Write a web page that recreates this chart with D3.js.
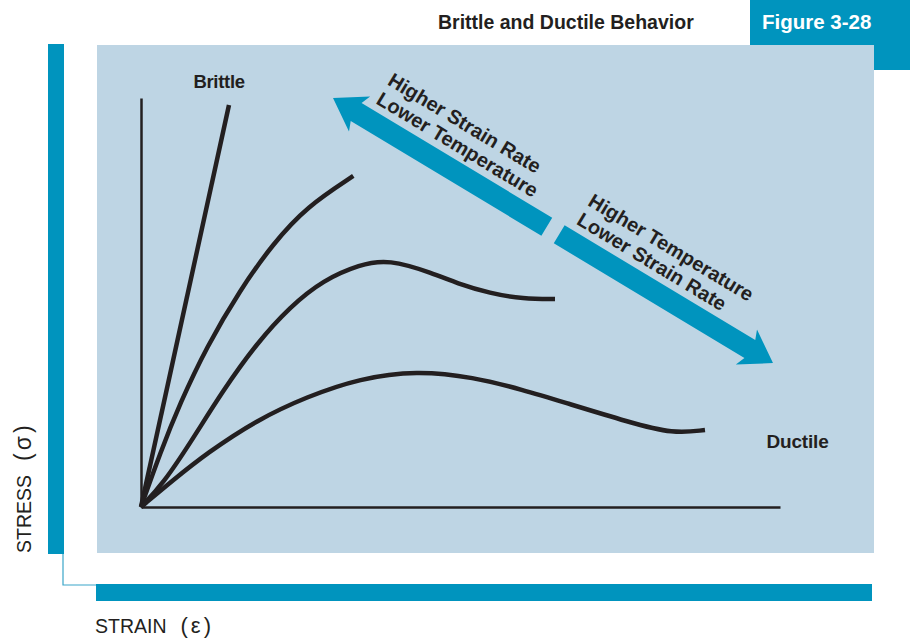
<!DOCTYPE html>
<html>
<head>
<meta charset="utf-8">
<script src="https://cdn.jsdelivr.net/npm/d3@7"></script>
<style>
  html, body { margin: 0; padding: 0; background: #ffffff; }
  svg { display: block; }
  text { font-family: "Liberation Sans", Arial, Helvetica, sans-serif; }
</style>
</head>
<body>
<svg id="chart" width="910" height="638"></svg>
<script>
// ---------- DATA ----------
const curveNames = ["Brittle", "Curve 2", "Curve 3", "Ductile"];
const strainBrittle = [0, 13.77];
const stressBrittle = [0, 98.29];
const strainCurve2 = [0, 2.97, 6.10, 10.28, 15.49, 20.70, 25.93, 33.22];
const stressCurve2 = [0, 13.13, 25.35, 39.19, 53.06, 64.47, 73.42, 80.93];
const strainCurve3 = [0, 3.49, 7.67, 12.88, 18.11, 23.32, 28.53, 34.27, 38.70, 45.74, 49.41, 54.62, 59.83, 64.79];
const stressCurve3 = [0, 5.79, 15.57, 28.61, 40.02, 48.97, 55.50, 59.30, 60.60, 57.14, 54.69, 52.25, 50.86, 50.86];
const strainDuctile = [0, 5.05, 10.28, 18.11, 25.93, 34.27, 43.15, 52.00, 59.83, 66.04, 76.53, 83.26, 88.26];
const stressDuctile = [0, 6.60, 13.13, 21.27, 26.97, 31.47, 33.35, 31.78, 28.61, 25.67, 20.66, 17.90, 18.83];

const titleText = "Brittle and Ductile Behavior";
const figureText = "Figure 3-28";
const xAxisLabel = "STRAIN";
const xAxisSymbol = "(ε)";
const yAxisLabel = "STRESS";
const yAxisSymbol = "(σ)";
const arrowUpperLines = ["Higher Strain Rate", "Lower Temperature"];
const arrowLowerLines = ["Higher Temperature", "Lower Strain Rate"];
// arrow tips in data space (strain, stress)
const arrowTipUpper = [30.05, 100];
const arrowTipLower = [98.9, 35.2];
const brittleLabelPos = [8.2, 102.5];
const ductileLabelPos = [97.9, 14.5];

// ---------- STYLE ----------
const teal = "#0094be";
const panelBlue = "#bed5e4";
const ink = "#231f20";

const svg = d3.select("#chart");

// frame decorations
svg.append("rect").attr("x", 750).attr("y", 0).attr("width", 160).attr("height", 70).attr("fill", teal);
svg.append("rect").attr("x", 48).attr("y", 44).attr("width", 16).attr("height", 510).attr("fill", teal);
svg.append("rect").attr("x", 96).attr("y", 584).attr("width", 776).attr("height", 17).attr("fill", teal);
svg.append("path").attr("d", "M63,554V585H96").attr("fill", "none").attr("stroke", "#3aa6c9").attr("stroke-width", 1.2);
svg.append("rect").attr("x", 97).attr("y", 45).attr("width", 777).attr("height", 508).attr("fill", panelBlue);

// titles
svg.append("text").attr("x", 438).attr("y", 29).attr("font-size", 19.5).attr("font-weight", "bold")
  .attr("fill", ink).text(titleText);
svg.append("text").attr("x", 762).attr("y", 29).attr("font-size", 20.5).attr("font-weight", "bold")
  .attr("fill", "#ffffff").text(figureText);

// ---------- SCALES ----------
const x = d3.scaleLinear().domain([0, 100]).range([141, 780]);
const y = d3.scaleLinear().domain([0, 100]).range([507, 98]);

// axes (no ticks)
const gx = svg.append("g").attr("transform", `translate(0,${y(0)})`)
  .call(d3.axisBottom(x).ticks(0).tickSizeOuter(0));
const gy = svg.append("g").attr("transform", `translate(${x(0)},0)`)
  .call(d3.axisLeft(y).ticks(0).tickSizeOuter(0));
[gx, gy].forEach(g => {
  g.select(".domain").attr("stroke", ink).attr("stroke-width", 2.5);
  g.selectAll(".tick").remove();
});

// curves
const series = [
  [strainBrittle, stressBrittle],
  [strainCurve2, stressCurve2],
  [strainCurve3, stressCurve3],
  [strainDuctile, stressDuctile]
].map(([xs, ys], i) => ({ name: curveNames[i], pts: xs.map((v, j) => [v, ys[j]]) }));

const line = d3.line().x(d => x(d[0])).y(d => y(d[1])).curve(d3.curveBasis);
svg.append("g").selectAll("path").data(series).join("path")
  .attr("d", d => line(d.pts))
  .attr("fill", "none").attr("stroke", ink).attr("stroke-width", 4.5)
  .attr("stroke-linejoin", "round");

// curve labels
svg.append("text").attr("x", x(brittleLabelPos[0])).attr("y", y(brittleLabelPos[1]))
  .attr("font-size", 18.5).attr("font-weight", "bold").attr("fill", ink).attr("letter-spacing", -0.3).text(curveNames[0]);
svg.append("text").attr("x", x(ductileLabelPos[0])).attr("y", y(ductileLabelPos[1]))
  .attr("font-size", 19).attr("font-weight", "bold").attr("fill", ink).attr("letter-spacing", -0.2).text(curveNames[3]);

// ---------- ARROWS ----------
const p0 = [x(arrowTipUpper[0]), y(arrowTipUpper[1])];
const p1 = [x(arrowTipLower[0]), y(arrowTipLower[1])];
const L = Math.hypot(p1[0] - p0[0], p1[1] - p0[1]);
const ang = Math.atan2(p1[1] - p0[1], p1[0] - p0[0]) * 180 / Math.PI;
const headL = 31, headW = 20.5, shaftW = 10.5, gap = 14.5;
const mid = L / 2;
const ga = svg.append("g").attr("transform", `translate(${p0[0]},${p0[1]}) rotate(${ang})`);
const upperArrow = [[0, 0], [headL, -headW], [headL - 4, -shaftW], [mid - gap / 2, -shaftW],
  [mid - gap / 2, shaftW], [headL - 4, shaftW], [headL, headW]];
const lowerArrow = [[L, 0], [L - headL, headW], [L - headL + 4, shaftW], [mid + gap / 2, shaftW],
  [mid + gap / 2, -shaftW], [L - headL + 4, -shaftW], [L - headL, -headW]];
ga.selectAll("path.arrow").data([upperArrow, lowerArrow]).join("path")
  .attr("class", "arrow")
  .attr("d", d => "M" + d.map(p => p.join(",")).join("L") + "Z")
  .attr("fill", teal);

const lineYs = [-39.5, -17.5];
ga.selectAll("text.up").data(arrowUpperLines).join("text").attr("class", "up")
  .attr("x", 38.5).attr("y", (d, i) => lineYs[i])
  .attr("font-size", 20).attr("font-weight", "bold").attr("fill", ink).text(d => d);
ga.selectAll("text.lo").data(arrowLowerLines).join("text").attr("class", "lo")
  .attr("x", 272.5).attr("y", (d, i) => lineYs[i])
  .attr("font-size", 20).attr("font-weight", "bold").attr("fill", ink).text(d => d);

// ---------- AXIS LABELS ----------
const xl = svg.append("text").attr("x", 95).attr("y", 633).attr("font-size", 19.5).attr("fill", ink);
xl.append("tspan").text(xAxisLabel);
xl.append("tspan").attr("dx", 14).attr("font-size", 22).attr("letter-spacing", 3).text(xAxisSymbol);

const yl = svg.append("text").attr("transform", "translate(31,553) rotate(-90)").attr("font-size", 19.5).attr("fill", ink);
yl.append("tspan").text(yAxisLabel);
yl.append("tspan").attr("dx", 14).attr("font-size", 23).attr("letter-spacing", 3).text(yAxisSymbol);
</script>
</body>
</html>
